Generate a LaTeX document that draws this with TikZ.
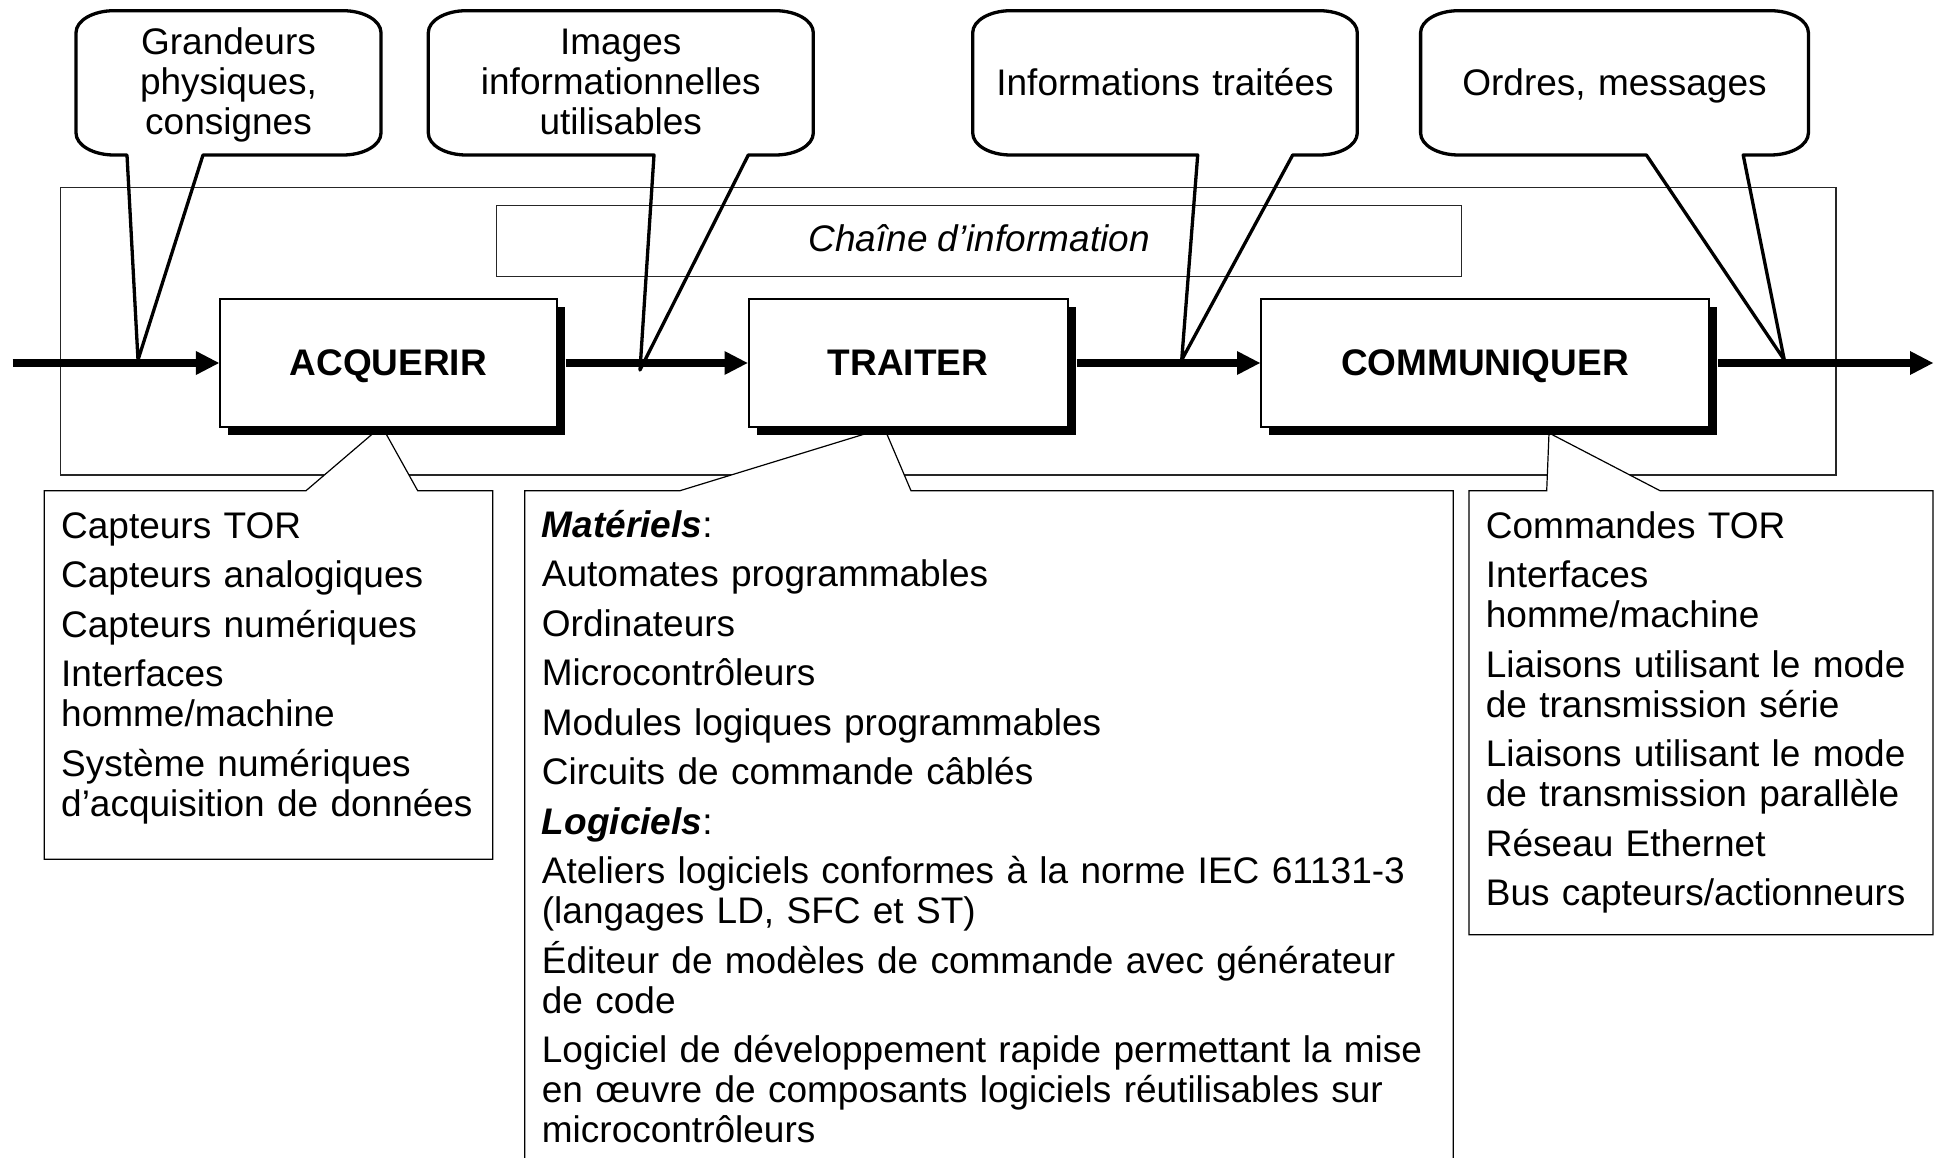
\documentclass[tikz,border=0pt]{standalone}
\usepackage{fontspec}
\setmainfont{Liberation Sans}
\usetikzlibrary{arrows.meta,shadows}

% Speech bubble with elliptical corners and a pointed tail:
% #1 left, #2 right, #3/#4 tail base x, #5 tail tip
\newcommand\speechbubble[5]{%
  \draw[bubble] (#3,155) -- (#5) -- (#4,155) -- (#2-38,155)
    arc[start angle=90,end angle=0,x radius=38,y radius=22] -- (#2,32.7)
    arc[start angle=0,end angle=-90,x radius=38,y radius=22] -- (#1+38,10.7)
    arc[start angle=-90,end angle=-180,x radius=38,y radius=22] -- (#1,133)
    arc[start angle=180,end angle=90,x radius=38,y radius=22] -- cycle;}

\begin{document}
\lineskiplimit=-20pt
\begin{tikzpicture}[x=1pt,y=-1pt,
  big/.style={font=\fontsize{37}{40}\selectfont},
  frameline/.style={draw=black!85, line width=1.2pt},
  stage/.style={draw, line width=2pt, fill=white, minimum height=128pt, inner sep=0pt,
    font=\fontsize{37}{40}\selectfont\bfseries, text height=26pt, text depth=2pt,
    drop shadow={shadow xshift=8pt, shadow yshift=-8pt, fill=black, opacity=1}},
  flow/.style={line width=7.5pt, -{Triangle[length=23pt,width=24pt,line width=0pt]}},
  bubble/.style={draw, line width=3.3pt, line join=round},
  callout/.style={draw, fill=white, line width=1.2pt},
  bubbletext/.style={big, inner sep=0pt, align=center, text width=380pt, anchor=base},
  listtext/.style={big, inner sep=0pt, align=left, text width=920pt, anchor=base west},
]
% page
\fill[white] (0,0) rectangle (1936,1158);
\useasboundingbox (0,0) rectangle (1936,1158);

% chain frame and its title
\draw[frameline] (60.7,187.5) rectangle (1836,475);
\node[frameline, minimum width=965.5pt, minimum height=71pt, inner sep=0pt,
  font=\fontsize{37}{40}\selectfont\itshape, text height=26pt, text depth=5pt]
  (title) at (979.05,241.2) {Chaîne d’information};

% tips of the lower callouts
\coordinate (tA) at (381.7,426);
\coordinate (tT) at (884.3,428);
\coordinate (tC) at (1549,433);

% lower callouts
\draw[callout] (44.3,859.3) -- (44.3,490.7) -- (306,490.7) -- (tA) -- (417.7,490.7)
  -- (492.7,490.7) -- (492.7,859.3) -- cycle;
\draw[callout] (524.7,1158) -- (524.7,490.7) -- (680,490.7) -- (tT) -- (911,490.7)
  -- (1453.3,490.7) -- (1453.3,1158);
\draw[callout] (1469,934.7) -- (1469,490.7) -- (1546.7,490.7) -- (tC) -- (1660,490.7)
  -- (1933,490.7) -- (1933,934.7) -- cycle;

% stages
\node[stage, minimum width=336.7pt] (acq) at (388.3,363) {ACQUERIR};
\node[stage, minimum width=319.2pt] (tra) at (908.1,363) {TRAITER};
\node[stage, minimum width=448pt] (com) at (1485,363) {COMMUNIQUER};

% information flow
\coordinate (in) at (12.7,363);
\coordinate (out) at (1933,363);
\draw[flow] (in) -- (acq.west);
\draw[flow] ([xshift=8pt]acq.east) -- (tra.west);
\draw[flow] ([xshift=8pt]tra.east) -- (com.west);
\draw[flow] ([xshift=8pt]com.east) -- (out);

% speech bubbles
\coordinate (p1) at (138,360);
\coordinate (p2) at (640,370);
\coordinate (p3) at (1181.7,360);
\coordinate (p4) at (1784.3,360);
\speechbubble{76}{381}{127}{203}{p1}
\speechbubble{428.3}{813.3}{654}{748.3}{p2}
\speechbubble{972.7}{1357.3}{1197.7}{1292.7}{p3}
\speechbubble{1420.6}{1808.4}{1646.4}{1743.2}{p4}

\node[bubbletext] (b1) at (228.5,55) {Grandeurs\\physiques,\\consignes};
\node[bubbletext] (b2) at (620.8,55) {Images\\informationnelles\\utilisables};
\node[bubbletext] (b3) at (1165,95.7) {Informations traitées};
\node[bubbletext] (b4) at (1614.5,95.7) {Ordres, messages};

% contents of the lower callouts
\node[listtext] (acqlist) at (61,538.3) {Capteurs TOR\\[9.5pt]
Capteurs analogiques\\[9.5pt]
Capteurs numériques\\[9.5pt]
Interfaces\\homme/machine\\[9.5pt]
Système numériques\\d’acquisition de données};

\node[listtext] (tralist) at (541.7,537.3) {\textbf{\textit{Matériels}}:\\[9.5pt]
Automates programmables\\[9.5pt]
Ordinateurs\\[9.5pt]
Microcontrôleurs\\[9.5pt]
Modules logiques programmables\\[9.5pt]
Circuits de commande câblés\\[9.5pt]
\textbf{\textit{Logiciels}}:\\[9.5pt]
Ateliers logiciels conformes à la norme IEC 61131-3\\(langages LD, SFC et ST)\\[9.5pt]
Éditeur de modèles de commande avec générateur\\de code\\[9.5pt]
Logiciel de développement rapide permettant la mise\\en œuvre de composants logiciels réutilisables sur\\microcontrôleurs};

\node[listtext] (comlist) at (1485.7,538) {Commandes TOR\\[9.5pt]
Interfaces\\homme/machine\\[9.5pt]
Liaisons utilisant le mode\\de transmission série\\[9.5pt]
Liaisons utilisant le mode\\de transmission parallèle\\[9.5pt]
Réseau Ethernet\\[9.5pt]
Bus capteurs/actionneurs};
\end{tikzpicture}
\end{document}
